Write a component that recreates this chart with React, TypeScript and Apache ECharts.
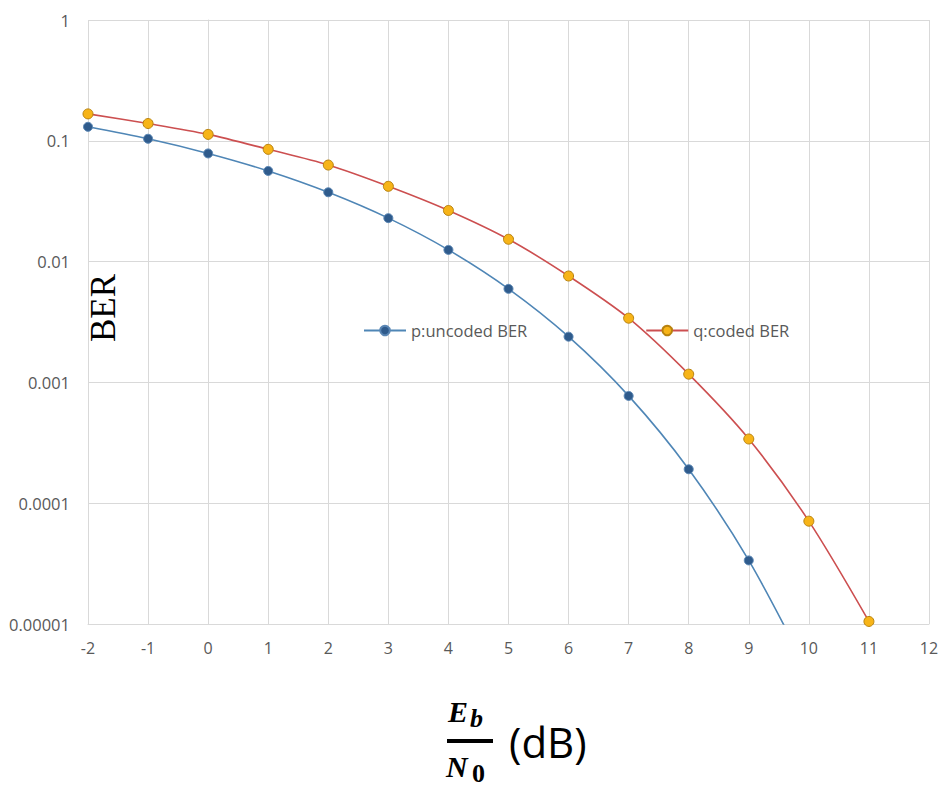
import React, { useEffect, useRef } from "react";
import * as echarts from "echarts";

const xValuesP = [-2, -1, 0, 1, 2, 3, 4, 5, 6, 7, 8, 9, 10];
const pUncoded = [0.1306, 0.104, 0.0786, 0.0563, 0.0375, 0.0229, 0.0125, 0.00595, 0.00239, 0.000773, 0.000191, 0.0000336, 0.00000387];
const xValuesQ = [-2, -1, 0, 1, 2, 3, 4, 5, 6, 7, 8, 9, 10, 11];
const qCoded = [0.167, 0.139, 0.113, 0.085, 0.063, 0.042, 0.0265, 0.0153, 0.0076, 0.0034, 0.00117, 0.00034, 0.000071, 0.0000105];
const yTickLabels = ["1", "0.1", "0.01", "0.001", "0.0001", "0.00001"];
const seriesNames = ["p:uncoded BER", "q:coded BER"];

export default function App() {
  const ref = useRef<HTMLDivElement>(null);
  useEffect(() => {
    if (!ref.current) return;
    const chart = echarts.init(ref.current, null, { renderer: "svg" });
    const labelColor = "#595959";
    const gridColor = "#d9d9d9";
    const font = "'Open Sans', 'Noto Sans', sans-serif";
    chart.setOption({
      animation: false,
      backgroundColor: "#ffffff",
      grid: { left: 88, right: 14, top: 20, bottom: 162, containLabel: false },
      legend: {
        left: 358,
        top: 317,
        itemWidth: 42,
        itemHeight: 12,
        itemGap: 118,
        textStyle: { color: labelColor, fontSize: 16.5, fontFamily: font },
        data: seriesNames,
      },
      xAxis: {
        type: "value",
        min: -2,
        max: 12,
        interval: 1,
        axisLine: { show: true, lineStyle: { color: gridColor, width: 1 } },
        axisTick: { show: false },
        splitLine: { show: true, lineStyle: { color: gridColor, width: 1 } },
        axisLabel: { color: labelColor, fontSize: 16, fontFamily: font, margin: 16 },
      },
      yAxis: {
        type: "log",
        logBase: 10,
        min: 0.00001,
        max: 1,
        axisLine: { show: true, lineStyle: { color: gridColor, width: 1 } },
        axisTick: { show: false },
        splitLine: { show: true, lineStyle: { color: gridColor, width: 1 } },
        minorSplitLine: { show: false },
        axisLabel: {
          color: labelColor,
          fontSize: 16.5,
          fontFamily: font,
          margin: 18,
          formatter: (v: number) => yTickLabels[Math.round(-Math.log10(v))] ?? "",
        },
      },
      series: [
        {
          name: seriesNames[0],
          type: "line",
          data: xValuesP.map((x, i) => [x, pUncoded[i]]),
          smooth: 0.3,
          clip: true,
          symbol: "circle",
          symbolSize: 9,
          lineStyle: { color: "#4f86b6", width: 1.6 },
          itemStyle: { color: "#2f5b8c", borderColor: "#5a86b4", borderWidth: 1 },
        },
        {
          name: seriesNames[1],
          type: "line",
          data: xValuesQ.map((x, i) => [x, qCoded[i]]),
          smooth: 0.3,
          clip: true,
          symbol: "circle",
          symbolSize: 10,
          lineStyle: { color: "#cc4f50", width: 1.6 },
          itemStyle: { color: "#f7b418", borderColor: "#b8820e", borderWidth: 1 },
        },
      ],
      graphic: [
        {
          type: "text",
          x: 103,
          y: 308,
          rotation: Math.PI / 2,
          style: {
            text: "BER",
            font: "35px 'Liberation Serif', 'Times New Roman', serif",
            fill: "#000000",
            textAlign: "center",
            textVerticalAlign: "middle",
          },
        },
        {
          type: "text",
          x: 448,
          y: 726,
          style: {
            text: "E",
            font: "italic bold 30px 'Liberation Serif', serif",
            fill: "#000",
            textAlign: "left",
            textVerticalAlign: "bottom",
          },
        },
        {
          type: "text",
          x: 470,
          y: 731,
          style: {
            text: "b",
            font: "italic bold 26px 'Liberation Serif', serif",
            fill: "#000",
            textAlign: "left",
            textVerticalAlign: "bottom",
          },
        },
        {
          type: "rect",
          shape: { x: 447, y: 739, width: 46, height: 4 },
          style: { fill: "#000" },
        },
        {
          type: "text",
          x: 446,
          y: 781,
          style: {
            text: "N",
            font: "italic bold 30px 'Liberation Serif', serif",
            fill: "#000",
            textAlign: "left",
            textVerticalAlign: "bottom",
          },
        },
        {
          type: "text",
          x: 472,
          y: 786,
          style: {
            text: "0",
            font: "bold 26px 'Liberation Serif', serif",
            fill: "#000",
            textAlign: "left",
            textVerticalAlign: "bottom",
          },
        },
        {
          type: "text",
          x: 509,
          y: 741,
          style: {
            text: "(dB)",
            font: "42px 'Open Sans', 'Noto Sans', sans-serif",
            fill: "#000",
            textAlign: "left",
            textVerticalAlign: "middle",
          },
        },
      ],
    });
    return () => chart.dispose();
  }, []);
  return (
    <div
      ref={ref}
      style={{ position: "absolute", left: 0, top: 0, width: 943, height: 786 }}
    />
  );
}
